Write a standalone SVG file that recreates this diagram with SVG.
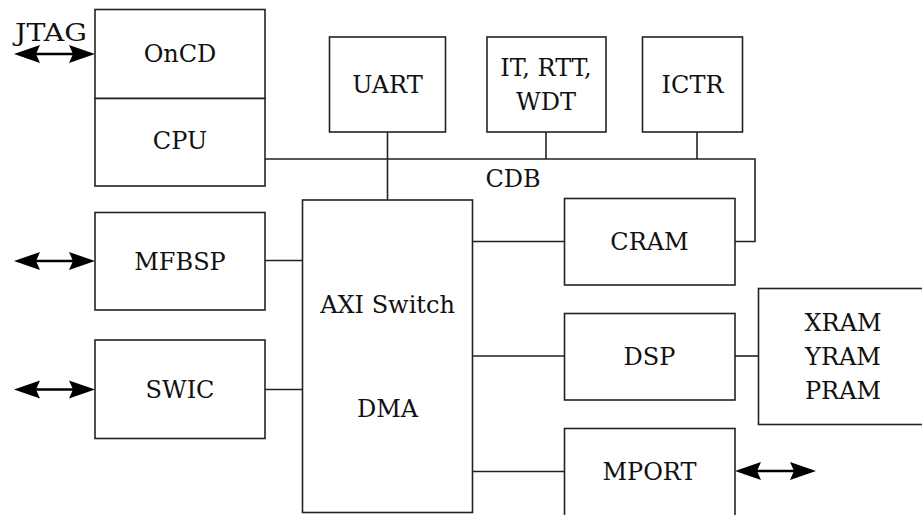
<svg xmlns="http://www.w3.org/2000/svg" width="922" height="515" viewBox="0 0 922 515">
<defs>
<style>
.box{fill:#fff;stroke:#222;stroke-width:1.6}
.ln{fill:none;stroke:#222;stroke-width:1.6}
.arr{fill:none;stroke:#000;stroke-width:2.4}
.hd{fill:#000}
</style>
<path id="dbl" d="M0,0 L26,-9 L22,0 L26,9 Z M81,0 L55,-9 L59,0 L55,9 Z"/>
</defs>
<g id="connectors">
<path class="ln" d="M265,159 H755 V241.5 H735"/>
<path class="ln" d="M387.5,132 V200"/>
<path class="ln" d="M546,132 V159"/>
<path class="ln" d="M697,132 V159"/>
<path class="ln" d="M472.5,241.5 H564.5"/>
<path class="ln" d="M472.5,356 H564.5"/>
<path class="ln" d="M735,356 H758.5"/>
<path class="ln" d="M472.5,471.5 H564.5"/>
<path class="ln" d="M265,260.5 H302.5"/>
<path class="ln" d="M265,389.5 H302.5"/>
<path class="arr" d="M30,54 H80"/>
<use href="#dbl" class="hd" x="14" y="54"/>
<path class="arr" d="M30,261 H80"/>
<use href="#dbl" class="hd" x="14" y="261"/>
<path class="arr" d="M30,389.5 H80"/>
<use href="#dbl" class="hd" x="14" y="389.5"/>
<path class="arr" d="M751,471 H801"/>
<use href="#dbl" class="hd" x="735" y="471"/>
</g>
<g font-family="DejaVu Serif, serif" font-size="24" fill="#111" text-anchor="middle">
<g id="jtag"><text x="51" y="41" textLength="72" lengthAdjust="spacingAndGlyphs">JTAG</text></g>
<g id="oncd"><rect class="box" x="95" y="9.5" width="170" height="89"/><text x="180" y="62">OnCD</text></g>
<g id="cpu"><rect class="box" x="95" y="98.5" width="170" height="87.5"/><text x="180" y="149">CPU</text></g>
<g id="uart"><rect class="box" x="329.5" y="37" width="116" height="95"/><text x="387.5" y="93">UART</text></g>
<g id="timers"><rect class="box" x="487" y="37" width="119" height="95"/><text x="546" y="76">IT, RTT,</text><text x="546" y="110">WDT</text></g>
<g id="ictr"><rect class="box" x="642.5" y="37" width="100" height="95"/><text x="692.5" y="93">ICTR</text></g>
<g id="cdb"><text x="513" y="187">CDB</text></g>
<g id="mfbsp"><rect class="box" x="95" y="212.5" width="170" height="97.5"/><text x="180" y="270">MFBSP</text></g>
<g id="swic"><rect class="box" x="95" y="340" width="170" height="98.5"/><text x="180" y="398">SWIC</text></g>
<g id="axi"><rect class="box" x="302.5" y="200" width="170" height="312.5"/><text x="387.5" y="313">AXI Switch</text><text x="387.5" y="417">DMA</text></g>
<g id="cram"><rect class="box" x="564.5" y="198.5" width="170.5" height="86.5"/><text x="649.5" y="250">CRAM</text></g>
<g id="dsp"><rect class="box" x="564.5" y="313.5" width="170.5" height="86.5"/><text x="649.5" y="365">DSP</text></g>
<g id="mport"><rect class="box" x="564.5" y="428.5" width="170.5" height="95"/><text x="649.5" y="480">MPORT</text></g>
<g id="xram"><rect class="box" x="758.5" y="288.5" width="170" height="136"/><text x="843" y="331">XRAM</text><text x="843" y="365">YRAM</text><text x="843" y="399">PRAM</text></g>
</g>
</svg>
